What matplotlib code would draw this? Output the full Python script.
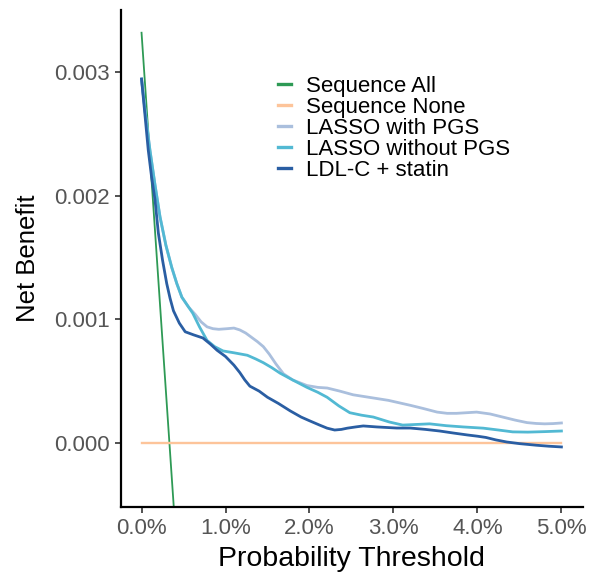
import numpy as np
import matplotlib.pyplot as plt
from matplotlib.ticker import FuncFormatter

plt.rcParams['font.family'] = ['Liberation Sans', 'DejaVu Sans']

# thresholds in %, net benefit in units of 0.001
all_x = [0.0, 0.39]
all_y = [3.32, -0.58]

none_x = [0.0, 5.0]
none_y = [0.0, 0.0]

pgs_x = [0.0, 0.05, 0.10, 0.16, 0.22, 0.29, 0.36, 0.42, 0.48, 0.56, 0.64, 0.71, 0.78, 0.85, 0.92,
         1.02, 1.10, 1.17, 1.24, 1.30, 1.38, 1.45, 1.52, 1.60, 1.69, 1.80, 1.97, 2.10, 2.21, 2.36,
         2.52, 2.66, 2.80, 2.94, 3.07, 3.20, 3.35, 3.52, 3.64, 3.75, 3.87, 3.99, 4.15, 4.30, 4.45,
         4.59, 4.70, 4.80, 4.90, 5.00]
pgs_y = [2.945, 2.64, 2.37, 2.09, 1.83, 1.60, 1.42, 1.29, 1.18, 1.10, 1.04, 0.98, 0.94, 0.925, 0.92,
         0.925, 0.93, 0.915, 0.89, 0.86, 0.82, 0.78, 0.72, 0.64, 0.56, 0.51, 0.465, 0.45, 0.445, 0.42,
         0.39, 0.375, 0.36, 0.345, 0.325, 0.305, 0.28, 0.25, 0.24, 0.24, 0.245, 0.25, 0.235, 0.21, 0.185,
         0.165, 0.158, 0.155, 0.157, 0.162]

nopgs_x = [0.0, 0.05, 0.10, 0.16, 0.22, 0.29, 0.36, 0.42, 0.48, 0.55, 0.61, 0.69, 0.78, 0.87, 0.97,
           1.10, 1.26, 1.36, 1.45, 1.55, 1.65, 1.80, 1.97, 2.10, 2.21, 2.35, 2.48, 2.62, 2.76, 2.95,
           3.11, 3.27, 3.43, 3.63, 3.83, 4.07, 4.25, 4.42, 4.60, 4.80, 5.00]
nopgs_y = [2.945, 2.64, 2.37, 2.09, 1.83, 1.60, 1.42, 1.29, 1.18, 1.11, 1.05, 0.94, 0.83, 0.78, 0.745,
           0.73, 0.71, 0.68, 0.65, 0.61, 0.565, 0.51, 0.45, 0.41, 0.37, 0.30, 0.245, 0.225, 0.21, 0.17,
           0.145, 0.15, 0.155, 0.14, 0.13, 0.12, 0.105, 0.09, 0.088, 0.092, 0.097]

ldl_x = [0.0, 0.04, 0.08, 0.12, 0.16, 0.20, 0.25, 0.30, 0.34, 0.38, 0.45, 0.52, 0.62, 0.73, 0.82,
         0.90, 1.00, 1.10, 1.17, 1.23, 1.29, 1.40, 1.50, 1.63, 1.77, 1.90, 2.00, 2.12, 2.21, 2.30,
         2.38, 2.45, 2.55, 2.64, 2.80, 3.04, 3.20, 3.38, 3.55, 3.72, 3.88, 4.00, 4.10, 4.22, 4.35,
         4.50, 4.70, 4.85, 5.00]
ldl_y = [2.945, 2.66, 2.37, 2.15, 1.97, 1.70, 1.48, 1.29, 1.17, 1.07, 0.97, 0.90, 0.875, 0.85, 0.80,
         0.75, 0.70, 0.63, 0.57, 0.51, 0.46, 0.42, 0.37, 0.32, 0.26, 0.21, 0.18, 0.145, 0.12, 0.105,
         0.11, 0.12, 0.13, 0.138, 0.13, 0.121, 0.121, 0.11, 0.097, 0.08, 0.065, 0.055, 0.045, 0.025, 0.008,
         -0.005, -0.018, -0.026, -0.032]

labels = ["Sequence All", "Sequence None", "LASSO with PGS", "LASSO without PGS", "LDL-C + statin"]
colors = ["#2e9a55", "#fdc49a", "#aabfdd", "#52b9d3", "#2a5ea3"]

fig = plt.figure(figsize=(5.9, 5.77), dpi=100)
ax = fig.add_axes([0.2046, 0.1213, 0.7834, 0.8614])

ax.plot(np.array(all_x) / 100, np.array(all_y) / 1000, color=colors[0], lw=1.3, label=labels[0])
ax.plot(np.array(none_x) / 100, np.array(none_y) / 1000, color=colors[1], lw=1.7, label=labels[1])
ax.plot(np.array(pgs_x) / 100, np.array(pgs_y) / 1000, color=colors[2], lw=2.0, label=labels[2])
ax.plot(np.array(nopgs_x) / 100, np.array(nopgs_y) / 1000, color=colors[3], lw=2.0, label=labels[3])
ax.plot(np.array(ldl_x) / 100, np.array(ldl_y) / 1000, color=colors[4], lw=2.0, label=labels[4])

ax.set_xlim(-0.00248, 0.05256)
ax.set_ylim(-0.000518, 0.003504)
ax.set_xticks([0, 0.01, 0.02, 0.03, 0.04, 0.05])
ax.set_yticks([0, 0.001, 0.002, 0.003])
ax.xaxis.set_major_formatter(FuncFormatter(lambda v, p: f"{v*100:.1f}%"))
ax.yaxis.set_major_formatter(FuncFormatter(lambda v, p: f"{v:.3f}"))

for s in ["top", "right"]:
    ax.spines[s].set_visible(False)
for s in ["left", "bottom"]:
    ax.spines[s].set_linewidth(1.6)
    ax.spines[s].set_color("black")
ax.tick_params(length=4, width=1.2, colors="#333333", labelsize=16, labelcolor="#555555", pad=4)

ax.set_xlabel("Probability Threshold", fontsize=20.5, labelpad=5)
ax.set_ylabel("Net Benefit", fontsize=18.5, labelpad=10)

leg = ax.legend(loc="upper left", bbox_to_anchor=(0.321, 0.885), frameon=False, fontsize=16,
                handlelength=0.6, handletextpad=0.65, labelspacing=0.0, borderaxespad=0)
for h in leg.get_lines():
    h.set_linewidth(2.4)

fig.savefig("out.png", dpi=100)
